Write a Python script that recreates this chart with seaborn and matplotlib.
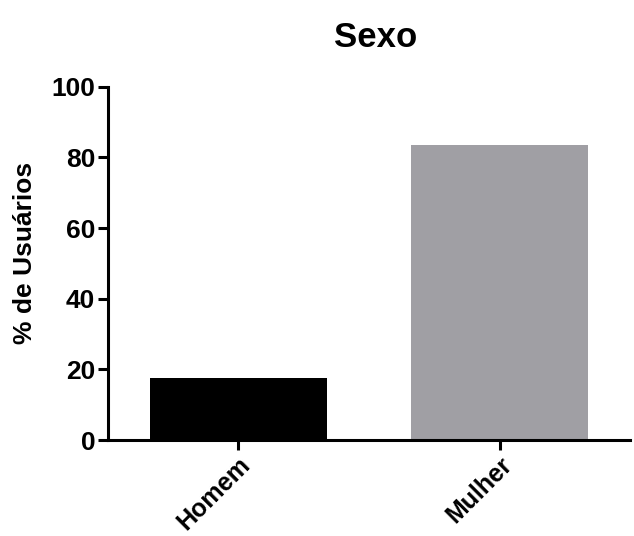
import matplotlib
matplotlib.use("Agg")
import matplotlib.pyplot as plt
import seaborn as sns

categories = ["Homem", "Mulher"]
values = [17.6, 83.6]
colors = ["#000000", "#a09fa4"]
yticks = [0, 20, 40, 60, 80, 100]

sns.set_style("ticks")
plt.rcParams['font.family'] = ['Liberation Sans', 'DejaVu Sans']
plt.rcParams['text.color'] = 'black'
plt.rcParams['axes.labelcolor'] = 'black'
plt.rcParams['xtick.color'] = 'black'
plt.rcParams['ytick.color'] = 'black'

fig = plt.figure(figsize=(6.34, 5.36), dpi=100)
ax = fig.add_axes([0.170, 0.179, 0.824, 0.659])

sns.barplot(x=categories, y=values, hue=categories, palette=colors,
            width=0.68, saturation=1, legend=False, ax=ax, linewidth=0)

ax.set_xlim(-0.5, 1.5)
ax.set_ylim(0, 100)
ax.set_yticks(yticks)
ax.set_yticklabels([str(t) for t in yticks], fontsize=19, fontweight='bold')
ax.set_xticks(range(len(categories)))
ax.set_xticklabels(categories, rotation=45, ha='right', rotation_mode='anchor',
                   fontsize=18, fontweight='bold')
ax.set_ylabel("% de Usuários", fontsize=19, fontweight='bold')
ax.yaxis.set_label_coords(-0.135, 0.53)
ax.set_xlabel("")
ax.set_title("Sexo", fontsize=25, fontweight='bold', pad=29, x=0.513)

for s in ['top', 'right']:
    ax.spines[s].set_visible(False)
for s in ['left', 'bottom']:
    ax.spines[s].set_linewidth(2.2)
    ax.spines[s].set_color('black')
ax.tick_params(axis='both', width=2.2, length=7, color='black', pad=2)

fig.savefig("out.png", dpi=100)
